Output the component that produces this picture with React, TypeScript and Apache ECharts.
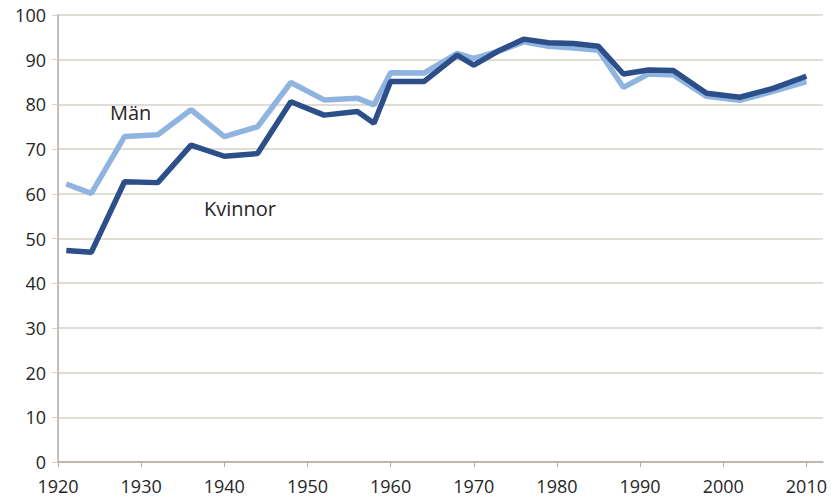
import React, { useEffect, useRef } from "react";
import * as echarts from "echarts";

const years = [1921, 1924, 1928, 1932, 1936, 1940, 1944, 1948, 1952, 1956, 1958, 1960, 1964, 1968, 1970, 1973, 1976, 1979, 1982, 1985, 1988, 1991, 1994, 1998, 2002, 2006, 2010];
const men = [62.2, 60.1, 72.8, 73.2, 78.8, 72.8, 75.0, 84.9, 81.0, 81.4, 79.9, 87.1, 87.0, 91.4, 90.3, 91.9, 94.0, 93.0, 92.6, 92.1, 83.8, 86.8, 86.6, 81.8, 80.9, 82.9, 85.1];
const women = [47.3, 46.9, 62.7, 62.5, 70.9, 68.4, 69.0, 80.6, 77.6, 78.4, 75.8, 85.1, 85.1, 91.0, 88.8, 92.0, 94.6, 93.8, 93.6, 93.0, 86.8, 87.7, 87.6, 82.5, 81.6, 83.6, 86.3];
const seriesNames = ["Män", "Kvinnor"];

const FONT = "'Open Sans', 'Noto Sans', sans-serif";

export default function App() {
  const ref = useRef<HTMLDivElement>(null);
  useEffect(() => {
    if (!ref.current) return;
    const chart = echarts.init(ref.current, undefined, { renderer: "svg" });
    const axisColor = "#b3aaa3";
    const gridColor = "#d8d0ca";
    chart.setOption({
      animation: false,
      backgroundColor: "#ffffff",
      grid: { left: 58, right: 8, top: 15, bottom: 41, containLabel: false },
      xAxis: {
        type: "value",
        min: 1920,
        max: 2012,
        interval: 10,
        axisLine: { show: true, lineStyle: { color: axisColor, width: 1.5 } },
        axisTick: { show: true, length: 5, lineStyle: { color: axisColor } },
        splitLine: { show: false },
        axisLabel: {
          showMaxLabel: false,
          margin: 15,
          color: "#262626",
          fontSize: 18,
          fontFamily: FONT,
          formatter: (v: number) => String(v),
        },
      },
      yAxis: {
        type: "value",
        min: 0,
        max: 100,
        interval: 10,
        axisLine: { show: true, lineStyle: { color: axisColor, width: 1.5 } },
        axisTick: { show: true, length: 6, lineStyle: { color: gridColor } },
        splitLine: { show: true, lineStyle: { color: gridColor, width: 1.5 } },
        axisLabel: {
          margin: 12,
          color: "#262626",
          fontSize: 18,
          fontFamily: FONT,
        },
      },
      series: [
        {
          name: seriesNames[0],
          type: "line",
          data: years.map((y, i) => [y, men[i]]),
          showSymbol: false,
          lineStyle: { color: "#8fb4e0", width: 5.5 },
          itemStyle: { color: "#8fb4e0" },
          z: 2,
        },
        {
          name: seriesNames[1],
          type: "line",
          data: years.map((y, i) => [y, women[i]]),
          showSymbol: false,
          lineStyle: { color: "#2c4f8a", width: 5.5 },
          itemStyle: { color: "#2c4f8a" },
          z: 3,
        },
      ],
      graphic: [
        {
          type: "text",
          left: 110,
          top: 102,
          style: { text: seriesNames[0], font: `20px ${FONT}`, fill: "#262626" },
        },
        {
          type: "text",
          left: 204,
          top: 198,
          style: { text: seriesNames[1], font: `20px ${FONT}`, fill: "#262626" },
        },
      ],
    });
    return () => chart.dispose();
  }, []);
  return <div ref={ref} style={{ width: 831, height: 503, position: "absolute", left: 0, top: 0 }} />;
}
